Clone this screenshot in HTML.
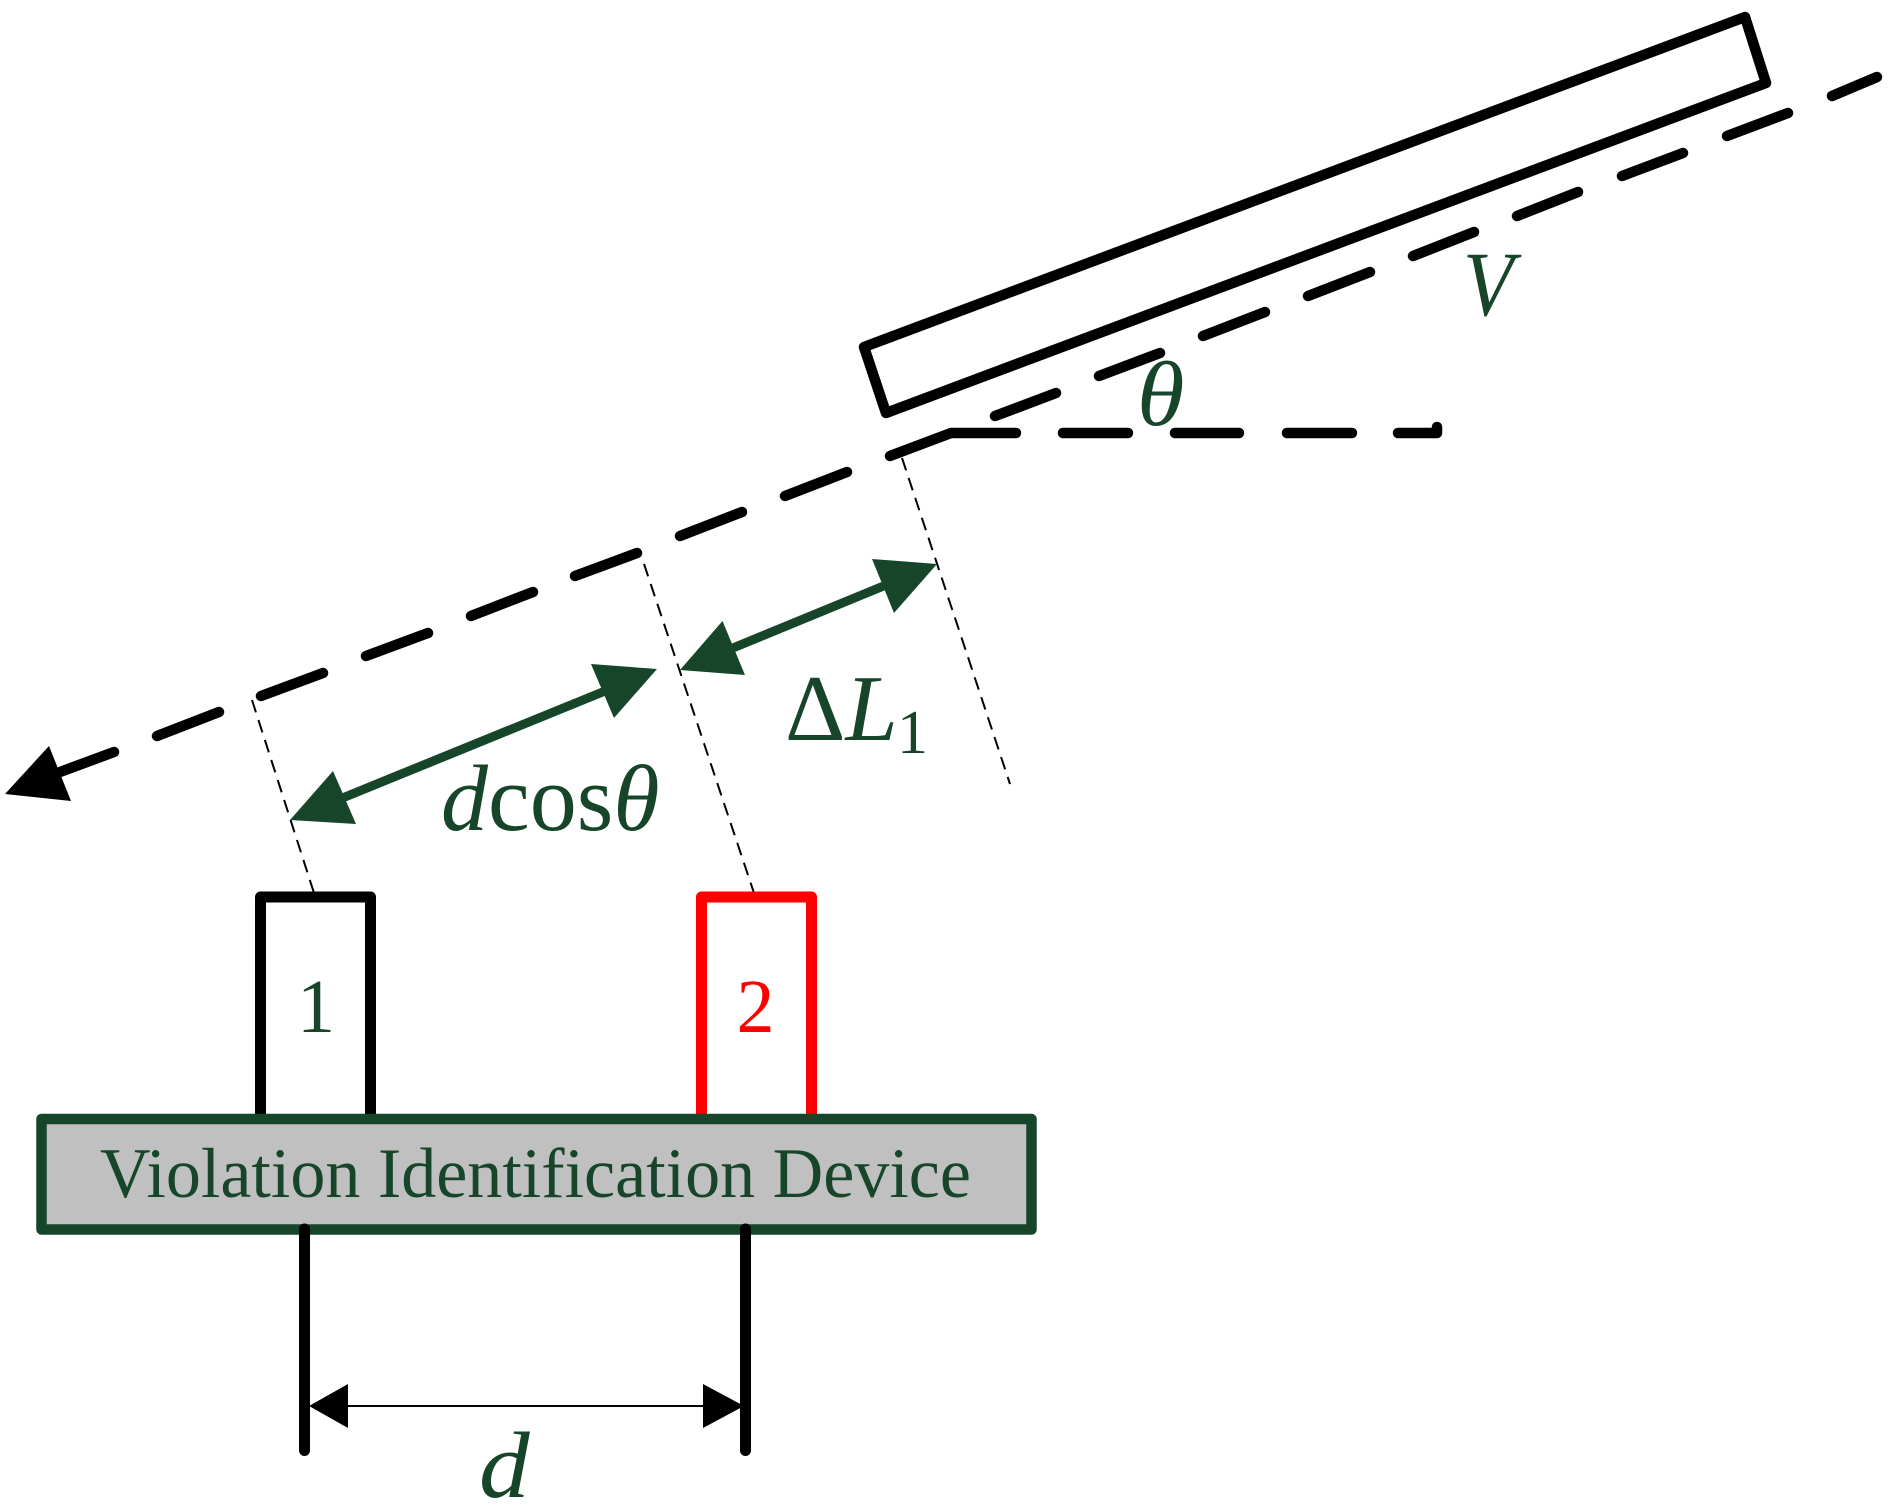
<!DOCTYPE html>
<html><head><meta charset="utf-8"><style>html,body{margin:0;padding:0;background:#fff}svg{display:block}text{font-family:"Liberation Serif",serif;fill:#17452a}.i{font-style:italic}</style></head><body>
<svg xmlns="http://www.w3.org/2000/svg" width="1894" height="1508" viewBox="0 0 1894 1508">
<rect width="1894" height="1508" fill="#fff"/>
<!-- thin dashed guides -->
<g stroke="#000" stroke-width="2" stroke-dasharray="13 8" fill="none">
<line x1="252" y1="700" x2="314" y2="893"/>
<line x1="644" y1="564" x2="756" y2="899"/>
<line x1="902" y1="458" x2="1010" y2="784"/>
</g>
<!-- train body -->
<polygon points="864,347 1745,17 1766,83 886,413" fill="none" stroke="#000" stroke-width="10.5" stroke-linejoin="round"/>
<!-- dashes -->
<g stroke="#000" stroke-width="10.5" stroke-linecap="round" fill="none" stroke-linejoin="round">
<path d="M1832,96L1877,77M1727,136L1788,113M1622,176L1683,153M1517,216L1578,192M1413,256L1474,232M1308,296L1370,272M1203,336L1265,312M1099,376L1160,353M995,416L1056,393"/>
<path d="M890,456L951,433L1016,433M1063,433H1128M1175,433H1239M1287,433H1352M1398,433H1437V427"/>
<path d="M785,496L847,472M680,536L742,512M575,576L637,553M471,616L533,592M366,656L428,633M261,696L323,673M157,736L219,712M60,772L114,752"/>
</g>
<polygon points="5,794 49,746 71,801" fill="#000"/>
<!-- sensors -->
<path d="M260.5,1115V897H370.5V1115" fill="none" stroke="#000" stroke-width="11" stroke-linejoin="round"/>
<path d="M701.5,1115V897H811.5V1115" fill="none" stroke="#f00" stroke-width="11" stroke-linejoin="round"/>
<rect x="41.5" y="1119" width="990" height="110.5" fill="#c0c0c0" stroke="#17452a" stroke-width="10.5" stroke-linejoin="round"/>
<!-- legs -->
<g stroke="#000" stroke-width="11" stroke-linecap="round"><line x1="304.5" y1="1229" x2="304.5" y2="1450.5"/><line x1="745.5" y1="1229" x2="745.5" y2="1450.5"/></g>
<line x1="340" y1="1406" x2="710" y2="1406" stroke="#000" stroke-width="2"/>
<polygon points="309,1406 348,1384 348,1428" fill="#000"/>
<polygon points="744,1406 703,1384 703,1428" fill="#000"/>
<!-- green arrows -->
<g stroke="#17452a" stroke-width="9" fill="none"><line x1="340" y1="799" x2="610" y2="689"/><line x1="728" y1="650" x2="886" y2="585"/></g>
<g fill="#17452a">
<polygon points="290,820 333,771 356,824"/><polygon points="657,669 591,664 614,718"/>
<polygon points="680,670 722.5,621 745,675"/><polygon points="937,564 872,559 894,613"/>
</g>
<!-- labels -->
<text x="100" y="1197" font-size="71" textLength="871" lengthAdjust="spacingAndGlyphs">Violation Identification Device</text>
<text x="316" y="1032" font-size="76" text-anchor="middle">1</text>
<text x="755.5" y="1032" font-size="76" text-anchor="middle" style="fill:#f00">2</text>
<text class="i" font-size="94" transform="translate(479,1497) scale(1.08,1)">d</text>
<text x="441" y="830" font-size="94"><tspan class="i">d</tspan>cos<tspan class="i">θ</tspan></text>
<text x="785" y="740" font-size="94">Δ<tspan class="i">L</tspan></text>
<text x="897" y="753" font-size="62">1</text>
<text class="i" font-size="92" transform="translate(1463,315) scale(.9,1)">V</text>
<text class="i" font-size="92" transform="translate(1137,425) scale(1.05,1)">θ</text>
</svg></body></html>
